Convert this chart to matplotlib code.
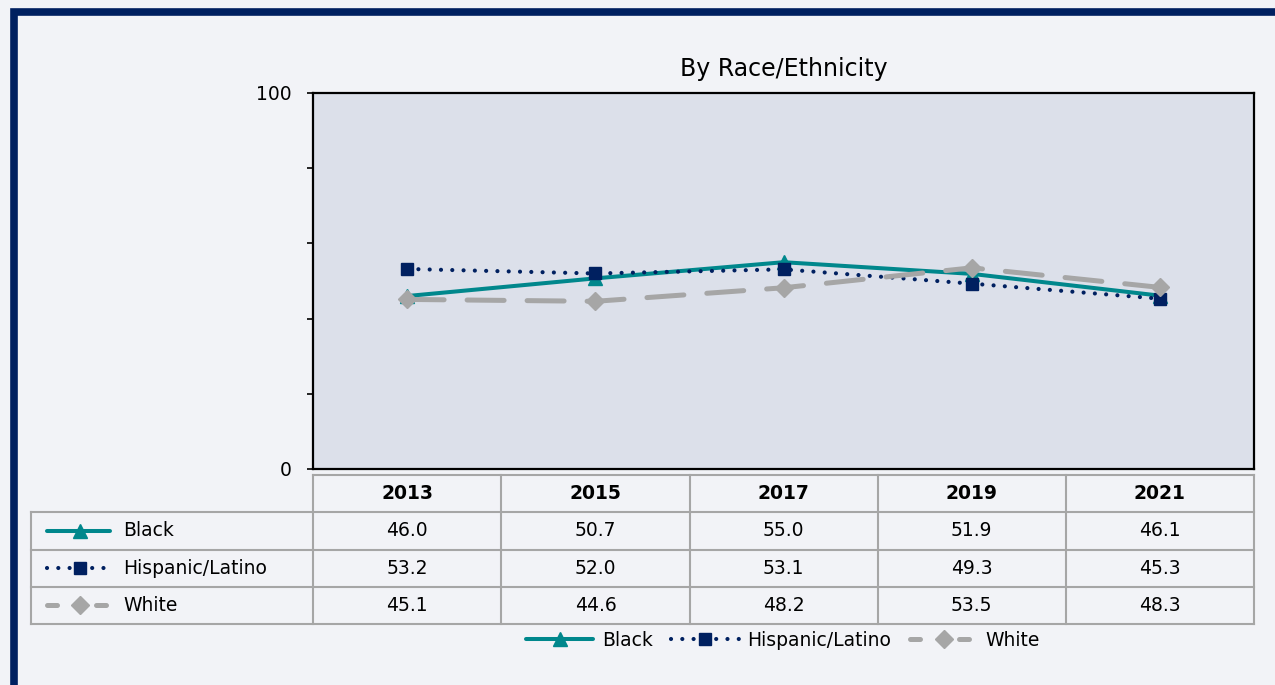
import matplotlib
matplotlib.use("Agg")
import matplotlib.pyplot as plt
from matplotlib.lines import Line2D
from matplotlib.patches import Rectangle
from matplotlib.ticker import MultipleLocator, FuncFormatter

plt.rcParams['font.family'] = ['DejaVu Sans']

# Survey years and percentages by group
years = ['2013', '2015', '2017', '2019', '2021']
groups = ['Black', 'Hispanic/Latino', 'White']
black = [46.0, 50.7, 55.0, 51.9, 46.1]
hispanic = [53.2, 52.0, 53.1, 49.3, 45.3]
white = [45.1, 44.6, 48.2, 53.5, 48.3]

styles = [
    dict(color='#00878c', linestyle='-', linewidth=2.9, marker='^',
         markersize=10, solid_capstyle='round'),
    dict(color='#002060', linestyle=(0, (0.01, 2.7)), linewidth=3.0, marker='s',
         markersize=9, dash_capstyle='round'),
    dict(color='#a6a6a6', linestyle=(0, (7.4, 4.6)), linewidth=3.6, marker='D',
         markersize=9, dash_capstyle='round'),
]
# shorter dashes for the legend keys
key_dash = [None, (0, (0.01, 2.7)), (0, (2.0, 7.8))]
series = [black, hispanic, white]

W, H = 1275, 685
FS = 13.5
fig = plt.figure(figsize=(W / 100, H / 100), dpi=100, facecolor='#f2f3f7')

# dark frame round the panel
fig.add_artist(Rectangle((13.5 / W, -0.2), 1.2, 1.2 - 12 / H,
                         transform=fig.transFigure, fill=False,
                         edgecolor='#002060', linewidth=5.5, clip_on=False))

# line chart
ax = fig.add_axes([313 / W, 1 - 469 / H, (1254 - 313) / W, (469 - 93) / H])
ax.set_facecolor('#dce0ea')
x = range(len(years))
for vals, name, st in zip(series, groups, styles):
    ax.plot(x, vals, label=name, **st)
ax.set_xlim(-0.5, len(years) - 0.5)
ax.set_ylim(0, 100)
ax.yaxis.set_major_locator(MultipleLocator(20))
ax.yaxis.set_major_formatter(FuncFormatter(
    lambda v, p: f'{v:.0f}' if v in (0, 100) else ''))
ax.set_xticks([])
ax.tick_params(axis='y', direction='out', length=4.5, width=1.2, pad=11,
               labelsize=FS)
for s in ax.spines.values():
    s.set_linewidth(1.6)
    s.set_color('black')
ax.set_title('By Race/Ethnicity', fontsize=17, pad=12)


def key(st, dash):
    kw = {k: v for k, v in st.items() if k not in ('linestyle',)}
    return Line2D([], [], linestyle=dash or st['linestyle'], **kw)


# data table below the chart
tb = fig.add_axes([31 / W, 1 - 624 / H, (1254 - 31) / W, (624 - 475) / H])
tb.set_xlim(-2.0, len(years) - 0.5)
tb.set_ylim(len(groups), -1)
tb.axis('off')
grid = dict(color='#a6a6a6', linewidth=1.5, clip_on=False)
tb.plot([-0.5, len(years) - 0.5], [-1, -1], **grid)
for i, yr in enumerate(years):
    tb.text(i, -0.5, yr, ha='center', va='center', fontsize=FS,
            fontweight='bold')
for r in range(len(groups) + 1):
    tb.plot([-2.0, len(years) - 0.5], [r, r], **grid)
tb.plot([-2.0, -2.0], [0, len(groups)], **grid)
for c in range(len(years) + 1):
    tb.plot([c - 0.5, c - 0.5], [-1, len(groups)], **grid)
for r, (vals, name, st, dash) in enumerate(zip(series, groups, styles, key_dash)):
    line = {k: v for k, v in st.items() if k not in ('marker', 'markersize', 'linestyle')}
    tb.add_line(Line2D([-1.915, -1.58], [r + 0.5, r + 0.5],
                       linestyle=dash or st['linestyle'], **line))
    tb.plot([-1.74], [r + 0.5], marker=st['marker'], color=st['color'],
            markersize=st['markersize'], linestyle='none')
    tb.text(-1.51, r + 0.5, name, ha='left', va='center', fontsize=FS)
    for i, v in enumerate(vals):
        tb.text(i, r + 0.5, f'{v:.1f}', ha='center', va='center', fontsize=FS)

handles = [key(st, d) for st, d in zip(styles, key_dash)]
fig.legend(handles, groups, loc='center', bbox_to_anchor=(783 / W, 1 - 640 / H),
           ncol=3, frameon=False, fontsize=FS, handlelength=3.6,
           handletextpad=0.45, columnspacing=1.0, numpoints=1)

fig.savefig('out.png', dpi=100, facecolor=fig.get_facecolor())
